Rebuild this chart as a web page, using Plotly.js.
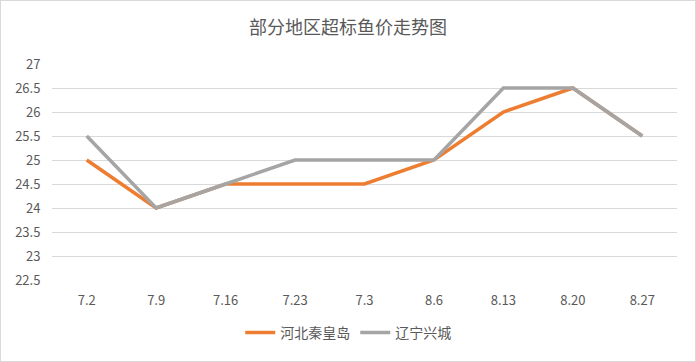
<!DOCTYPE html>
<html><head><meta charset="utf-8">
<script src="https://cdn.plot.ly/plotly-3.0.1.min.js"></script>
<style>html,body{margin:0;padding:0;background:#fff}#c{width:694px;height:360px;border:1px solid #d9d9d9}</style>
</head><body><div id="c"></div>
<script>
const categories = ['7.2','7.9','7.16','7.23','7.3','8.6','8.13','8.20','8.27'];
const hebei = [25, 24, 24.5, 24.5, 24.5, 25, 26, 26.5, 25.5];
const liaoning = [25.5, 24, 24.5, 25, 25, 25, 26.5, 26.5, 25.5];
const seriesNames = ['河北秦皇岛', '辽宁兴城'];
const title = '部分地区超标鱼价走势图';

const font = "'Microsoft YaHei','Noto Sans CJK SC',sans-serif";
const traces = [
  {x: categories, y: hebei, name: seriesNames[0], type: 'scatter', mode: 'lines',
   line: {color: '#ED7D31', width: 3.5}},
  {x: categories, y: liaoning, name: seriesNames[1], type: 'scatter', mode: 'lines',
   line: {color: '#A5A5A5', width: 3.5}}
];
const layout = {
  width: 694, height: 360,
  margin: {l: 51, r: 18, t: 63, b: 78},
  paper_bgcolor: '#fff', plot_bgcolor: '#fff',
  font: {family: font, color: '#595959', size: 13},
  title: {text: title, font: {size: 18, color: '#595959', family: font}, x: 0.5, xanchor: 'center', y: 0.925, yanchor: 'middle'},
  xaxis: {type: 'category', range: [-0.5, 8.5], showgrid: false, zeroline: false, showline: false,
          ticks: 'outside', ticklen: 8, tickcolor: 'rgba(0,0,0,0)',
          tickfont: {size: 13, color: '#595959'}},
  yaxis: {range: [22.5, 27], dtick: 0.5, tick0: 22.5, showgrid: true, gridcolor: '#d9d9d9', gridwidth: 1,
          zeroline: false, showline: false, ticks: 'outside', ticklen: 8, tickcolor: 'rgba(0,0,0,0)',
          tickfont: {size: 13, color: '#595959'}},
  showlegend: true,
  legend: {orientation: 'h', x: 0.474, xanchor: 'center', y: -0.245, yanchor: 'middle',
           font: {size: 14, color: '#595959'}, itemwidth: 30, tracegroupgap: 0}
};
Plotly.newPlot('c', traces, layout, {displayModeBar: false, staticPlot: true});
</script></body></html>
